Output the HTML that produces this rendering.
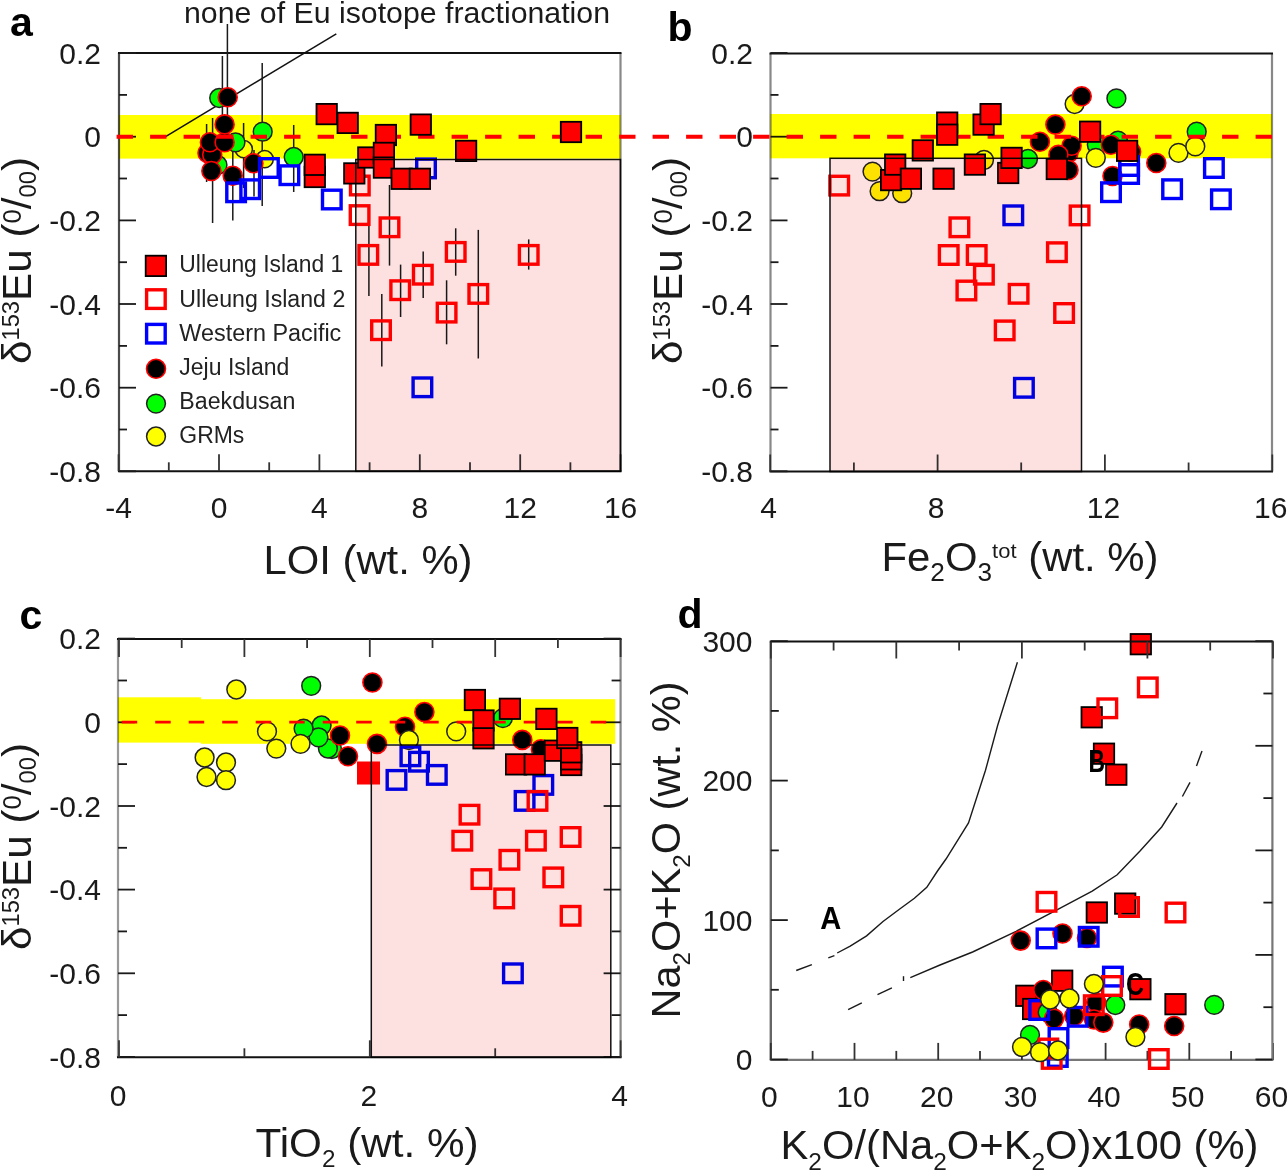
<!DOCTYPE html><html><head><meta charset="utf-8"><style>html,body{margin:0;padding:0;background:#fff;width:1288px;height:1170px;overflow:hidden}svg{display:block}text{font-family:"Liberation Sans",sans-serif}</style></head><body>
<svg width="1288" height="1170" viewBox="0 0 1288 1170">
<rect width="1288" height="1170" fill="#fff"/>
<line x1="119" y1="53.0" x2="119" y2="471.3" stroke="#4a4a4a" stroke-width="2.2"/>
<line x1="620.5" y1="53.0" x2="620.5" y2="471.3" stroke="#888" stroke-width="2.2"/>
<line x1="118" y1="53.0" x2="621.5" y2="53.0" stroke="#111" stroke-width="2"/>
<line x1="118" y1="471.3" x2="621.5" y2="471.3" stroke="#111" stroke-width="2"/>
<line x1="119" y1="53.0" x2="136" y2="53.0" stroke="#1a1a1a" stroke-width="1.8"/>
<line x1="119" y1="94.9" x2="127" y2="94.9" stroke="#1a1a1a" stroke-width="1.8"/>
<line x1="119" y1="136.7" x2="136" y2="136.7" stroke="#1a1a1a" stroke-width="1.8"/>
<line x1="119" y1="178.5" x2="127" y2="178.5" stroke="#1a1a1a" stroke-width="1.8"/>
<line x1="119" y1="220.4" x2="136" y2="220.4" stroke="#1a1a1a" stroke-width="1.8"/>
<line x1="119" y1="262.2" x2="127" y2="262.2" stroke="#1a1a1a" stroke-width="1.8"/>
<line x1="119" y1="304.0" x2="136" y2="304.0" stroke="#1a1a1a" stroke-width="1.8"/>
<line x1="119" y1="345.9" x2="127" y2="345.9" stroke="#1a1a1a" stroke-width="1.8"/>
<line x1="119" y1="387.7" x2="136" y2="387.7" stroke="#1a1a1a" stroke-width="1.8"/>
<line x1="119" y1="429.5" x2="127" y2="429.5" stroke="#1a1a1a" stroke-width="1.8"/>
<line x1="119" y1="471.3" x2="136" y2="471.3" stroke="#1a1a1a" stroke-width="1.8"/>
<line x1="118.6" y1="454.3" x2="118.6" y2="471.3" stroke="#333" stroke-width="1.8"/>
<line x1="168.8" y1="462.3" x2="168.8" y2="471.3" stroke="#333" stroke-width="1.8"/>
<line x1="219.0" y1="454.3" x2="219.0" y2="471.3" stroke="#333" stroke-width="1.8"/>
<line x1="269.2" y1="462.3" x2="269.2" y2="471.3" stroke="#333" stroke-width="1.8"/>
<line x1="319.4" y1="454.3" x2="319.4" y2="471.3" stroke="#333" stroke-width="1.8"/>
<line x1="369.6" y1="462.3" x2="369.6" y2="471.3" stroke="#333" stroke-width="1.8"/>
<line x1="419.8" y1="454.3" x2="419.8" y2="471.3" stroke="#333" stroke-width="1.8"/>
<line x1="470.0" y1="462.3" x2="470.0" y2="471.3" stroke="#333" stroke-width="1.8"/>
<line x1="520.2" y1="454.3" x2="520.2" y2="471.3" stroke="#333" stroke-width="1.8"/>
<line x1="570.4" y1="462.3" x2="570.4" y2="471.3" stroke="#333" stroke-width="1.8"/>
<line x1="620.6" y1="454.3" x2="620.6" y2="471.3" stroke="#333" stroke-width="1.8"/>
<line x1="770.5" y1="53.5" x2="770.5" y2="471.5" stroke="#888" stroke-width="2.2"/>
<line x1="1272" y1="53.5" x2="1272" y2="471.5" stroke="#888" stroke-width="2.2"/>
<line x1="769.5" y1="53.5" x2="1273" y2="53.5" stroke="#111" stroke-width="2"/>
<line x1="769.5" y1="471.5" x2="1273" y2="471.5" stroke="#111" stroke-width="2"/>
<line x1="770.5" y1="53.0" x2="787.5" y2="53.0" stroke="#1a1a1a" stroke-width="1.8"/>
<line x1="770.5" y1="94.9" x2="778.5" y2="94.9" stroke="#1a1a1a" stroke-width="1.8"/>
<line x1="770.5" y1="136.7" x2="787.5" y2="136.7" stroke="#1a1a1a" stroke-width="1.8"/>
<line x1="770.5" y1="178.5" x2="778.5" y2="178.5" stroke="#1a1a1a" stroke-width="1.8"/>
<line x1="770.5" y1="220.4" x2="787.5" y2="220.4" stroke="#1a1a1a" stroke-width="1.8"/>
<line x1="770.5" y1="262.2" x2="778.5" y2="262.2" stroke="#1a1a1a" stroke-width="1.8"/>
<line x1="770.5" y1="304.0" x2="787.5" y2="304.0" stroke="#1a1a1a" stroke-width="1.8"/>
<line x1="770.5" y1="345.9" x2="778.5" y2="345.9" stroke="#1a1a1a" stroke-width="1.8"/>
<line x1="770.5" y1="387.7" x2="787.5" y2="387.7" stroke="#1a1a1a" stroke-width="1.8"/>
<line x1="770.5" y1="429.5" x2="778.5" y2="429.5" stroke="#1a1a1a" stroke-width="1.8"/>
<line x1="770.5" y1="471.3" x2="787.5" y2="471.3" stroke="#1a1a1a" stroke-width="1.8"/>
<line x1="770.2" y1="454.5" x2="770.2" y2="471.5" stroke="#333" stroke-width="1.8"/>
<line x1="853.9" y1="462.5" x2="853.9" y2="471.5" stroke="#333" stroke-width="1.8"/>
<line x1="937.6" y1="454.5" x2="937.6" y2="471.5" stroke="#333" stroke-width="1.8"/>
<line x1="1021.2" y1="462.5" x2="1021.2" y2="471.5" stroke="#333" stroke-width="1.8"/>
<line x1="1104.9" y1="454.5" x2="1104.9" y2="471.5" stroke="#333" stroke-width="1.8"/>
<line x1="1188.6" y1="462.5" x2="1188.6" y2="471.5" stroke="#333" stroke-width="1.8"/>
<line x1="1272.3" y1="454.5" x2="1272.3" y2="471.5" stroke="#333" stroke-width="1.8"/>
<rect x="119" y="115" width="501.5" height="43.6" fill="#ffff00" style="mix-blend-mode:multiply"/>
<rect x="770.5" y="114" width="501.5" height="44.3" fill="#ffff00" style="mix-blend-mode:multiply"/>
<polyline points="165.6,136.6 336.3,33.8" fill="none" stroke="#111" stroke-width="1.5"/>
<line x1="227.4" y1="24" x2="227.4" y2="140" stroke="#1a1a1a" stroke-width="1.5"/>
<line x1="222.4" y1="56" x2="222.4" y2="140" stroke="#1a1a1a" stroke-width="1.5"/>
<line x1="262.2" y1="63" x2="262.2" y2="206" stroke="#1a1a1a" stroke-width="1.5"/>
<line x1="212.6" y1="118" x2="212.6" y2="223" stroke="#1a1a1a" stroke-width="1.5"/>
<line x1="232.8" y1="150" x2="232.8" y2="220.5" stroke="#1a1a1a" stroke-width="1.5"/>
<line x1="206.6" y1="124" x2="206.6" y2="182" stroke="#1a1a1a" stroke-width="1.5"/>
<line x1="243.6" y1="123" x2="243.6" y2="188" stroke="#1a1a1a" stroke-width="1.5"/>
<line x1="293.7" y1="125" x2="293.7" y2="192" stroke="#1a1a1a" stroke-width="1.5"/>
<line x1="254" y1="150" x2="254" y2="196.6" stroke="#1a1a1a" stroke-width="1.5"/>
<line x1="368.9" y1="215" x2="368.9" y2="296" stroke="#1a1a1a" stroke-width="1.5"/>
<line x1="389.5" y1="185" x2="389.5" y2="265.6" stroke="#1a1a1a" stroke-width="1.5"/>
<line x1="455.7" y1="228.3" x2="455.7" y2="275.7" stroke="#1a1a1a" stroke-width="1.5"/>
<line x1="400.6" y1="264.6" x2="400.6" y2="317" stroke="#1a1a1a" stroke-width="1.5"/>
<line x1="423.2" y1="251.5" x2="423.2" y2="297.9" stroke="#1a1a1a" stroke-width="1.5"/>
<line x1="478.3" y1="229.9" x2="478.3" y2="358.5" stroke="#1a1a1a" stroke-width="1.5"/>
<line x1="446.6" y1="280.3" x2="446.6" y2="344.3" stroke="#1a1a1a" stroke-width="1.5"/>
<line x1="381.8" y1="293.9" x2="381.8" y2="366.5" stroke="#1a1a1a" stroke-width="1.5"/>
<line x1="528.7" y1="239.4" x2="528.7" y2="269.6" stroke="#1a1a1a" stroke-width="1.5"/>
<circle cx="243.8" cy="149.2" r="8.6" fill="#ffff00" stroke="#222" stroke-width="1.5"/>
<circle cx="264.7" cy="159.2" r="8.6" fill="#ffff00" stroke="#222" stroke-width="1.5"/>
<circle cx="219.2" cy="98.0" r="9.4" fill="#00ff00" stroke="#222" stroke-width="1.5"/>
<circle cx="235.5" cy="142.3" r="9.4" fill="#00ff00" stroke="#222" stroke-width="1.5"/>
<circle cx="262.7" cy="131.7" r="9.4" fill="#00ff00" stroke="#222" stroke-width="1.5"/>
<circle cx="293.7" cy="157.0" r="9.4" fill="#00ff00" stroke="#222" stroke-width="1.5"/>
<circle cx="217.5" cy="165.0" r="9.4" fill="#00ff00" stroke="#222" stroke-width="1.5"/>
<circle cx="207.5" cy="153.0" r="9.5" fill="#000" stroke="#ff0000" stroke-width="1.6"/>
<circle cx="212.2" cy="154.7" r="9.5" fill="#000" stroke="#ff0000" stroke-width="1.6"/>
<circle cx="211.4" cy="171.0" r="9.5" fill="#000" stroke="#ff0000" stroke-width="1.6"/>
<circle cx="209.9" cy="142.3" r="9.5" fill="#000" stroke="#ff0000" stroke-width="1.6"/>
<circle cx="224.6" cy="142.3" r="9.5" fill="#000" stroke="#ff0000" stroke-width="1.6"/>
<circle cx="224.6" cy="124.4" r="9.5" fill="#000" stroke="#ff0000" stroke-width="1.6"/>
<circle cx="227.7" cy="97.3" r="9.5" fill="#000" stroke="#ff0000" stroke-width="1.6"/>
<circle cx="232.7" cy="175.7" r="9.5" fill="#000" stroke="#ff0000" stroke-width="1.6"/>
<circle cx="253.4" cy="163.3" r="9.5" fill="#000" stroke="#ff0000" stroke-width="1.6"/>
<circle cx="1028.0" cy="159.0" r="9.4" fill="#00ff00" stroke="#222" stroke-width="1.5"/>
<circle cx="1116.4" cy="98.4" r="9.4" fill="#00ff00" stroke="#222" stroke-width="1.5"/>
<circle cx="1096.8" cy="144.8" r="9.4" fill="#00ff00" stroke="#222" stroke-width="1.5"/>
<circle cx="1118.0" cy="140.7" r="9.4" fill="#00ff00" stroke="#222" stroke-width="1.5"/>
<circle cx="1196.7" cy="131.7" r="9.4" fill="#00ff00" stroke="#222" stroke-width="1.5"/>
<circle cx="872.5" cy="171.6" r="9.4" fill="#ffff00" stroke="#222" stroke-width="1.5"/>
<circle cx="879.6" cy="191.2" r="9.4" fill="#ffff00" stroke="#222" stroke-width="1.5"/>
<circle cx="902.2" cy="193.2" r="9.4" fill="#ffff00" stroke="#222" stroke-width="1.5"/>
<circle cx="984.0" cy="160.0" r="9.4" fill="#ffff00" stroke="#222" stroke-width="1.5"/>
<circle cx="1074.6" cy="104.0" r="9.4" fill="#ffff00" stroke="#222" stroke-width="1.5"/>
<circle cx="1095.8" cy="157.9" r="9.4" fill="#ffff00" stroke="#222" stroke-width="1.5"/>
<circle cx="1178.5" cy="152.9" r="9.4" fill="#ffff00" stroke="#222" stroke-width="1.5"/>
<circle cx="1195.3" cy="146.4" r="9.4" fill="#ffff00" stroke="#222" stroke-width="1.5"/>
<circle cx="1081.7" cy="96.3" r="9.5" fill="#000" stroke="#ff0000" stroke-width="1.6"/>
<circle cx="1055.4" cy="124.6" r="9.5" fill="#000" stroke="#ff0000" stroke-width="1.6"/>
<circle cx="1039.9" cy="141.8" r="9.5" fill="#000" stroke="#ff0000" stroke-width="1.6"/>
<circle cx="1068.5" cy="152.9" r="9.5" fill="#000" stroke="#ff0000" stroke-width="1.6"/>
<circle cx="1071.6" cy="145.8" r="9.5" fill="#000" stroke="#ff0000" stroke-width="1.6"/>
<circle cx="1058.4" cy="154.9" r="9.5" fill="#000" stroke="#ff0000" stroke-width="1.6"/>
<circle cx="1110.9" cy="144.8" r="9.5" fill="#000" stroke="#ff0000" stroke-width="1.6"/>
<circle cx="1131.1" cy="151.8" r="9.5" fill="#000" stroke="#ff0000" stroke-width="1.6"/>
<circle cx="1156.3" cy="163.0" r="9.5" fill="#000" stroke="#ff0000" stroke-width="1.6"/>
<circle cx="1068.5" cy="170.0" r="9.5" fill="#000" stroke="#ff0000" stroke-width="1.6"/>
<circle cx="1112.5" cy="176.0" r="9.5" fill="#000" stroke="#ff0000" stroke-width="1.6"/>
<line x1="116.6" y1="136.8" x2="1272" y2="136.8" stroke="#ff0000" stroke-width="4" stroke-dasharray="16.4 17.1"/>
<rect x="226.8" y="183.0" width="18.6" height="18.6" fill="none" stroke="#0000ff" stroke-width="3.4"/>
<rect x="240.9" y="179.9" width="18.6" height="18.6" fill="none" stroke="#0000ff" stroke-width="3.4"/>
<rect x="259.6" y="158.7" width="18.6" height="18.6" fill="none" stroke="#0000ff" stroke-width="3.4"/>
<rect x="280.1" y="165.9" width="18.6" height="18.6" fill="none" stroke="#0000ff" stroke-width="3.4"/>
<rect x="322.5" y="190.2" width="18.6" height="18.6" fill="none" stroke="#0000ff" stroke-width="3.4"/>
<rect x="416.7" y="159.1" width="18.6" height="18.6" fill="none" stroke="#0000ff" stroke-width="3.4"/>
<rect x="413.1" y="378.0" width="18.6" height="18.6" fill="none" stroke="#0000ff" stroke-width="3.4"/>
<rect x="350.5" y="176.2" width="18.6" height="18.6" fill="none" stroke="#ff0000" stroke-width="3.4"/>
<rect x="350.3" y="205.8" width="18.6" height="18.6" fill="none" stroke="#ff0000" stroke-width="3.4"/>
<rect x="380.2" y="218.0" width="18.6" height="18.6" fill="none" stroke="#ff0000" stroke-width="3.4"/>
<rect x="359.0" y="245.6" width="18.6" height="18.6" fill="none" stroke="#ff0000" stroke-width="3.4"/>
<rect x="390.9" y="280.9" width="18.6" height="18.6" fill="none" stroke="#ff0000" stroke-width="3.4"/>
<rect x="413.5" y="265.4" width="18.6" height="18.6" fill="none" stroke="#ff0000" stroke-width="3.4"/>
<rect x="446.4" y="242.6" width="18.6" height="18.6" fill="none" stroke="#ff0000" stroke-width="3.4"/>
<rect x="519.4" y="245.6" width="18.6" height="18.6" fill="none" stroke="#ff0000" stroke-width="3.4"/>
<rect x="469.0" y="284.6" width="18.6" height="18.6" fill="none" stroke="#ff0000" stroke-width="3.4"/>
<rect x="437.3" y="303.3" width="18.6" height="18.6" fill="none" stroke="#ff0000" stroke-width="3.4"/>
<rect x="371.7" y="320.9" width="18.6" height="18.6" fill="none" stroke="#ff0000" stroke-width="3.4"/>
<rect x="316.5" y="103.9" width="20.4" height="20.4" fill="#ff0000" stroke="#000" stroke-width="1.8"/>
<rect x="337.5" y="112.7" width="20.4" height="20.4" fill="#ff0000" stroke="#000" stroke-width="1.8"/>
<rect x="375.7" y="124.8" width="20.4" height="20.4" fill="#ff0000" stroke="#000" stroke-width="1.8"/>
<rect x="410.6" y="114.4" width="20.4" height="20.4" fill="#ff0000" stroke="#000" stroke-width="1.8"/>
<rect x="455.9" y="140.7" width="20.4" height="20.4" fill="#ff0000" stroke="#000" stroke-width="1.8"/>
<rect x="560.8" y="121.8" width="20.4" height="20.4" fill="#ff0000" stroke="#000" stroke-width="1.8"/>
<rect x="304.6" y="166.8" width="20.4" height="20.4" fill="#ff0000" stroke="#000" stroke-width="1.8"/>
<rect x="304.6" y="154.6" width="20.4" height="20.4" fill="#ff0000" stroke="#000" stroke-width="1.8"/>
<rect x="344.1" y="163.2" width="20.4" height="20.4" fill="#ff0000" stroke="#000" stroke-width="1.8"/>
<rect x="358.1" y="147.3" width="20.4" height="20.4" fill="#ff0000" stroke="#000" stroke-width="1.8"/>
<rect x="373.7" y="142.7" width="20.4" height="20.4" fill="#ff0000" stroke="#000" stroke-width="1.8"/>
<rect x="373.7" y="157.4" width="20.4" height="20.4" fill="#ff0000" stroke="#000" stroke-width="1.8"/>
<rect x="391.5" y="168.6" width="20.4" height="20.4" fill="#ff0000" stroke="#000" stroke-width="1.8"/>
<rect x="409.7" y="168.6" width="20.4" height="20.4" fill="#ff0000" stroke="#000" stroke-width="1.8"/>
<rect x="1004.0" y="206.0" width="18.6" height="18.6" fill="none" stroke="#0000ff" stroke-width="3.4"/>
<rect x="1014.6" y="378.5" width="18.6" height="18.6" fill="none" stroke="#0000ff" stroke-width="3.4"/>
<rect x="1101.7" y="182.9" width="18.6" height="18.6" fill="none" stroke="#0000ff" stroke-width="3.4"/>
<rect x="1119.8" y="156.7" width="18.6" height="18.6" fill="none" stroke="#0000ff" stroke-width="3.4"/>
<rect x="1119.8" y="164.7" width="18.6" height="18.6" fill="none" stroke="#0000ff" stroke-width="3.4"/>
<rect x="1162.8" y="179.9" width="18.6" height="18.6" fill="none" stroke="#0000ff" stroke-width="3.4"/>
<rect x="1204.6" y="158.7" width="18.6" height="18.6" fill="none" stroke="#0000ff" stroke-width="3.4"/>
<rect x="1211.6" y="190.0" width="18.6" height="18.6" fill="none" stroke="#0000ff" stroke-width="3.4"/>
<rect x="829.9" y="176.3" width="18.6" height="18.6" fill="none" stroke="#ff0000" stroke-width="3.4"/>
<rect x="950.1" y="218.0" width="18.6" height="18.6" fill="none" stroke="#ff0000" stroke-width="3.4"/>
<rect x="939.4" y="245.7" width="18.6" height="18.6" fill="none" stroke="#ff0000" stroke-width="3.4"/>
<rect x="967.4" y="245.7" width="18.6" height="18.6" fill="none" stroke="#ff0000" stroke-width="3.4"/>
<rect x="974.6" y="265.4" width="18.6" height="18.6" fill="none" stroke="#ff0000" stroke-width="3.4"/>
<rect x="957.1" y="281.2" width="18.6" height="18.6" fill="none" stroke="#ff0000" stroke-width="3.4"/>
<rect x="1009.3" y="284.5" width="18.6" height="18.6" fill="none" stroke="#ff0000" stroke-width="3.4"/>
<rect x="1047.6" y="242.9" width="18.6" height="18.6" fill="none" stroke="#ff0000" stroke-width="3.4"/>
<rect x="1070.3" y="206.1" width="18.6" height="18.6" fill="none" stroke="#ff0000" stroke-width="3.4"/>
<rect x="1054.8" y="303.7" width="18.6" height="18.6" fill="none" stroke="#ff0000" stroke-width="3.4"/>
<rect x="995.4" y="321.1" width="18.6" height="18.6" fill="none" stroke="#ff0000" stroke-width="3.4"/>
<rect x="880.9" y="169.9" width="20.4" height="20.4" fill="#ff0000" stroke="#000" stroke-width="1.8"/>
<rect x="885.0" y="154.4" width="20.4" height="20.4" fill="#ff0000" stroke="#000" stroke-width="1.8"/>
<rect x="900.7" y="168.5" width="20.4" height="20.4" fill="#ff0000" stroke="#000" stroke-width="1.8"/>
<rect x="912.6" y="140.2" width="20.4" height="20.4" fill="#ff0000" stroke="#000" stroke-width="1.8"/>
<rect x="937.0" y="112.4" width="20.4" height="20.4" fill="#ff0000" stroke="#000" stroke-width="1.8"/>
<rect x="937.0" y="124.5" width="20.4" height="20.4" fill="#ff0000" stroke="#000" stroke-width="1.8"/>
<rect x="933.4" y="168.5" width="20.4" height="20.4" fill="#ff0000" stroke="#000" stroke-width="1.8"/>
<rect x="973.4" y="114.4" width="20.4" height="20.4" fill="#ff0000" stroke="#000" stroke-width="1.8"/>
<rect x="980.4" y="103.9" width="20.4" height="20.4" fill="#ff0000" stroke="#000" stroke-width="1.8"/>
<rect x="964.7" y="154.4" width="20.4" height="20.4" fill="#ff0000" stroke="#000" stroke-width="1.8"/>
<rect x="998.0" y="162.8" width="20.4" height="20.4" fill="#ff0000" stroke="#000" stroke-width="1.8"/>
<rect x="1001.4" y="147.7" width="20.4" height="20.4" fill="#ff0000" stroke="#000" stroke-width="1.8"/>
<rect x="1079.9" y="121.5" width="20.4" height="20.4" fill="#ff0000" stroke="#000" stroke-width="1.8"/>
<rect x="1116.9" y="140.6" width="20.4" height="20.4" fill="#ff0000" stroke="#000" stroke-width="1.8"/>
<rect x="1046.6" y="158.8" width="20.4" height="20.4" fill="#ff0000" stroke="#000" stroke-width="1.8"/>
<rect x="355.8" y="159.5" width="264.7" height="311.8" fill="#fde1e1" stroke="#111" stroke-width="1.5" style="mix-blend-mode:multiply"/>
<rect x="830" y="158.3" width="251.5" height="313.2" fill="#fde1e1" stroke="#111" stroke-width="1.5" style="mix-blend-mode:multiply"/>
<line x1="118" y1="639.0" x2="118" y2="1057.3" stroke="#999" stroke-width="2.2"/>
<line x1="620.6" y1="639.0" x2="620.6" y2="1057.3" stroke="#888" stroke-width="2.2"/>
<line x1="117" y1="639.0" x2="621.6" y2="639.0" stroke="#111" stroke-width="2"/>
<line x1="117" y1="1057.3" x2="621.6" y2="1057.3" stroke="#111" stroke-width="2"/>
<line x1="118" y1="638.6" x2="135" y2="638.6" stroke="#1a1a1a" stroke-width="1.8"/>
<line x1="603.6" y1="638.6" x2="620.6" y2="638.6" stroke="#1a1a1a" stroke-width="1.8"/>
<line x1="118" y1="680.5" x2="127" y2="680.5" stroke="#1a1a1a" stroke-width="1.8"/>
<line x1="611.6" y1="680.5" x2="620.6" y2="680.5" stroke="#1a1a1a" stroke-width="1.8"/>
<line x1="118" y1="722.3" x2="135" y2="722.3" stroke="#1a1a1a" stroke-width="1.8"/>
<line x1="603.6" y1="722.3" x2="620.6" y2="722.3" stroke="#1a1a1a" stroke-width="1.8"/>
<line x1="118" y1="764.1" x2="127" y2="764.1" stroke="#1a1a1a" stroke-width="1.8"/>
<line x1="611.6" y1="764.1" x2="620.6" y2="764.1" stroke="#1a1a1a" stroke-width="1.8"/>
<line x1="118" y1="806.0" x2="135" y2="806.0" stroke="#1a1a1a" stroke-width="1.8"/>
<line x1="603.6" y1="806.0" x2="620.6" y2="806.0" stroke="#1a1a1a" stroke-width="1.8"/>
<line x1="118" y1="847.8" x2="127" y2="847.8" stroke="#1a1a1a" stroke-width="1.8"/>
<line x1="611.6" y1="847.8" x2="620.6" y2="847.8" stroke="#1a1a1a" stroke-width="1.8"/>
<line x1="118" y1="889.6" x2="135" y2="889.6" stroke="#1a1a1a" stroke-width="1.8"/>
<line x1="603.6" y1="889.6" x2="620.6" y2="889.6" stroke="#1a1a1a" stroke-width="1.8"/>
<line x1="118" y1="931.4" x2="127" y2="931.4" stroke="#1a1a1a" stroke-width="1.8"/>
<line x1="611.6" y1="931.4" x2="620.6" y2="931.4" stroke="#1a1a1a" stroke-width="1.8"/>
<line x1="118" y1="973.3" x2="135" y2="973.3" stroke="#1a1a1a" stroke-width="1.8"/>
<line x1="603.6" y1="973.3" x2="620.6" y2="973.3" stroke="#1a1a1a" stroke-width="1.8"/>
<line x1="118" y1="1015.1" x2="127" y2="1015.1" stroke="#1a1a1a" stroke-width="1.8"/>
<line x1="611.6" y1="1015.1" x2="620.6" y2="1015.1" stroke="#1a1a1a" stroke-width="1.8"/>
<line x1="118" y1="1056.9" x2="135" y2="1056.9" stroke="#1a1a1a" stroke-width="1.8"/>
<line x1="603.6" y1="1056.9" x2="620.6" y2="1056.9" stroke="#1a1a1a" stroke-width="1.8"/>
<line x1="119.0" y1="639.0" x2="119.0" y2="657.0" stroke="#333" stroke-width="1.8"/>
<line x1="181.7" y1="639.0" x2="181.7" y2="648.0" stroke="#333" stroke-width="1.8"/>
<line x1="244.4" y1="639.0" x2="244.4" y2="657.0" stroke="#333" stroke-width="1.8"/>
<line x1="307.1" y1="639.0" x2="307.1" y2="648.0" stroke="#333" stroke-width="1.8"/>
<line x1="369.8" y1="639.0" x2="369.8" y2="657.0" stroke="#333" stroke-width="1.8"/>
<line x1="432.5" y1="639.0" x2="432.5" y2="648.0" stroke="#333" stroke-width="1.8"/>
<line x1="495.2" y1="639.0" x2="495.2" y2="657.0" stroke="#333" stroke-width="1.8"/>
<line x1="557.9" y1="639.0" x2="557.9" y2="648.0" stroke="#333" stroke-width="1.8"/>
<line x1="620.6" y1="639.0" x2="620.6" y2="657.0" stroke="#333" stroke-width="1.8"/>
<line x1="119.0" y1="1040.3" x2="119.0" y2="1057.3" stroke="#333" stroke-width="1.8"/>
<line x1="244.4" y1="1048.3" x2="244.4" y2="1057.3" stroke="#333" stroke-width="1.8"/>
<line x1="369.8" y1="1040.3" x2="369.8" y2="1057.3" stroke="#333" stroke-width="1.8"/>
<line x1="495.2" y1="1048.3" x2="495.2" y2="1057.3" stroke="#333" stroke-width="1.8"/>
<line x1="620.6" y1="1040.3" x2="620.6" y2="1057.3" stroke="#333" stroke-width="1.8"/>
<rect x="118" y="697.3" width="83" height="45.3" fill="#ffff00" style="mix-blend-mode:multiply"/>
<rect x="201" y="699.2" width="414.20000000000005" height="44.6" fill="#ffff00" style="mix-blend-mode:multiply"/>
<circle cx="236.3" cy="689.5" r="9.4" fill="#ffff00" stroke="#222" stroke-width="1.5"/>
<circle cx="204.6" cy="757.5" r="9.4" fill="#ffff00" stroke="#222" stroke-width="1.5"/>
<circle cx="226.0" cy="762.5" r="9.4" fill="#ffff00" stroke="#222" stroke-width="1.5"/>
<circle cx="206.5" cy="777.0" r="9.4" fill="#ffff00" stroke="#222" stroke-width="1.5"/>
<circle cx="226.0" cy="780.2" r="9.4" fill="#ffff00" stroke="#222" stroke-width="1.5"/>
<circle cx="267.0" cy="731.4" r="9.4" fill="#ffff00" stroke="#222" stroke-width="1.5"/>
<circle cx="276.3" cy="748.6" r="9.4" fill="#ffff00" stroke="#222" stroke-width="1.5"/>
<circle cx="311.2" cy="685.8" r="9.4" fill="#00ff00" stroke="#222" stroke-width="1.5"/>
<circle cx="332.0" cy="749.0" r="9.4" fill="#00ff00" stroke="#222" stroke-width="1.5"/>
<circle cx="327.9" cy="748.5" r="9.4" fill="#00ff00" stroke="#222" stroke-width="1.5"/>
<circle cx="321.6" cy="725.5" r="9.4" fill="#00ff00" stroke="#222" stroke-width="1.5"/>
<circle cx="318.5" cy="737.3" r="9.4" fill="#00ff00" stroke="#222" stroke-width="1.5"/>
<circle cx="303.6" cy="728.6" r="9.4" fill="#00ff00" stroke="#222" stroke-width="1.5"/>
<circle cx="502.9" cy="718.1" r="9.4" fill="#00ff00" stroke="#222" stroke-width="1.5"/>
<circle cx="372.4" cy="682.5" r="9.5" fill="#000" stroke="#ff0000" stroke-width="1.6"/>
<circle cx="424.4" cy="712.0" r="9.5" fill="#000" stroke="#ff0000" stroke-width="1.6"/>
<circle cx="405.0" cy="726.8" r="9.5" fill="#000" stroke="#ff0000" stroke-width="1.6"/>
<circle cx="340.0" cy="735.5" r="9.5" fill="#000" stroke="#ff0000" stroke-width="1.6"/>
<circle cx="348.0" cy="756.3" r="9.5" fill="#000" stroke="#ff0000" stroke-width="1.6"/>
<circle cx="377.0" cy="743.9" r="9.5" fill="#000" stroke="#ff0000" stroke-width="1.6"/>
<circle cx="522.3" cy="739.9" r="9.5" fill="#000" stroke="#ff0000" stroke-width="1.6"/>
<circle cx="540.9" cy="749.2" r="9.5" fill="#000" stroke="#ff0000" stroke-width="1.6"/>
<circle cx="300.5" cy="743.9" r="9.4" fill="#ffff00" stroke="#222" stroke-width="1.5"/>
<circle cx="408.9" cy="740.0" r="9.4" fill="#ffff00" stroke="#222" stroke-width="1.5"/>
<circle cx="456.2" cy="731.4" r="9.4" fill="#ffff00" stroke="#222" stroke-width="1.5"/>
<line x1="118" y1="722.1" x2="607" y2="722.1" stroke="#ff0000" stroke-width="2.8" stroke-dasharray="15.5 18" stroke-dashoffset="-3.7"/>
<rect x="357.0" y="761.5" width="23.0" height="23.0" fill="#ff0000"/>
<rect x="401.1" y="747.0" width="18.6" height="18.6" fill="none" stroke="#0000ff" stroke-width="3.4"/>
<rect x="409.7" y="752.4" width="18.6" height="18.6" fill="none" stroke="#0000ff" stroke-width="3.4"/>
<rect x="387.2" y="770.6" width="18.6" height="18.6" fill="none" stroke="#0000ff" stroke-width="3.4"/>
<rect x="427.5" y="765.6" width="18.6" height="18.6" fill="none" stroke="#0000ff" stroke-width="3.4"/>
<rect x="534.0" y="775.6" width="18.6" height="18.6" fill="none" stroke="#0000ff" stroke-width="3.4"/>
<rect x="515.3" y="791.6" width="18.6" height="18.6" fill="none" stroke="#0000ff" stroke-width="3.4"/>
<rect x="503.6" y="964.0" width="18.6" height="18.6" fill="none" stroke="#0000ff" stroke-width="3.4"/>
<rect x="528.2" y="791.6" width="18.6" height="18.6" fill="none" stroke="#ff0000" stroke-width="3.4"/>
<rect x="460.2" y="805.4" width="18.6" height="18.6" fill="none" stroke="#ff0000" stroke-width="3.4"/>
<rect x="453.0" y="831.4" width="18.6" height="18.6" fill="none" stroke="#ff0000" stroke-width="3.4"/>
<rect x="500.1" y="850.5" width="18.6" height="18.6" fill="none" stroke="#ff0000" stroke-width="3.4"/>
<rect x="472.1" y="869.8" width="18.6" height="18.6" fill="none" stroke="#ff0000" stroke-width="3.4"/>
<rect x="494.9" y="889.1" width="18.6" height="18.6" fill="none" stroke="#ff0000" stroke-width="3.4"/>
<rect x="526.6" y="831.4" width="18.6" height="18.6" fill="none" stroke="#ff0000" stroke-width="3.4"/>
<rect x="561.3" y="827.7" width="18.6" height="18.6" fill="none" stroke="#ff0000" stroke-width="3.4"/>
<rect x="544.0" y="868.1" width="18.6" height="18.6" fill="none" stroke="#ff0000" stroke-width="3.4"/>
<rect x="561.3" y="906.5" width="18.6" height="18.6" fill="none" stroke="#ff0000" stroke-width="3.4"/>
<rect x="464.7" y="689.8" width="20.4" height="20.4" fill="#ff0000" stroke="#000" stroke-width="1.8"/>
<rect x="473.3" y="710.3" width="20.4" height="20.4" fill="#ff0000" stroke="#000" stroke-width="1.8"/>
<rect x="473.3" y="728.1" width="20.4" height="20.4" fill="#ff0000" stroke="#000" stroke-width="1.8"/>
<rect x="499.7" y="698.6" width="20.4" height="20.4" fill="#ff0000" stroke="#000" stroke-width="1.8"/>
<rect x="536.2" y="708.7" width="20.4" height="20.4" fill="#ff0000" stroke="#000" stroke-width="1.8"/>
<rect x="505.9" y="754.2" width="20.4" height="20.4" fill="#ff0000" stroke="#000" stroke-width="1.8"/>
<rect x="524.5" y="754.2" width="20.4" height="20.4" fill="#ff0000" stroke="#000" stroke-width="1.8"/>
<rect x="544.7" y="740.5" width="20.4" height="20.4" fill="#ff0000" stroke="#000" stroke-width="1.8"/>
<rect x="561.0" y="754.8" width="20.4" height="20.4" fill="#ff0000" stroke="#000" stroke-width="1.8"/>
<rect x="561.0" y="749.1" width="20.4" height="20.4" fill="#ff0000" stroke="#000" stroke-width="1.8"/>
<rect x="561.0" y="742.1" width="20.4" height="20.4" fill="#ff0000" stroke="#000" stroke-width="1.8"/>
<rect x="557.1" y="727.8" width="20.4" height="20.4" fill="#ff0000" stroke="#000" stroke-width="1.8"/>
<rect x="371.3" y="745" width="239.5" height="312.3" fill="#fde1e1" stroke="#111" stroke-width="1.5" style="mix-blend-mode:multiply"/>
<line x1="770.8" y1="641.5" x2="770.8" y2="1059.9" stroke="#666" stroke-width="2.4"/>
<line x1="769.8" y1="1059.9" x2="1273.4" y2="1059.9" stroke="#777" stroke-width="2.2"/>
<line x1="770.8" y1="1059.5" x2="787.8" y2="1059.5" stroke="#1a1a1a" stroke-width="1.8"/>
<line x1="770.8" y1="989.8" x2="778.8" y2="989.8" stroke="#1a1a1a" stroke-width="1.8"/>
<line x1="770.8" y1="920.1" x2="787.8" y2="920.1" stroke="#1a1a1a" stroke-width="1.8"/>
<line x1="770.8" y1="850.4" x2="778.8" y2="850.4" stroke="#1a1a1a" stroke-width="1.8"/>
<line x1="770.8" y1="780.6" x2="787.8" y2="780.6" stroke="#1a1a1a" stroke-width="1.8"/>
<line x1="770.8" y1="710.9" x2="778.8" y2="710.9" stroke="#1a1a1a" stroke-width="1.8"/>
<line x1="770.8" y1="641.2" x2="787.8" y2="641.2" stroke="#1a1a1a" stroke-width="1.8"/>
<line x1="770.8" y1="1042.9" x2="770.8" y2="1059.9" stroke="#333" stroke-width="1.8"/>
<line x1="812.6" y1="1050.9" x2="812.6" y2="1059.9" stroke="#333" stroke-width="1.8"/>
<line x1="854.5" y1="1042.9" x2="854.5" y2="1059.9" stroke="#333" stroke-width="1.8"/>
<line x1="896.3" y1="1050.9" x2="896.3" y2="1059.9" stroke="#333" stroke-width="1.8"/>
<line x1="938.2" y1="1042.9" x2="938.2" y2="1059.9" stroke="#333" stroke-width="1.8"/>
<line x1="980.0" y1="1050.9" x2="980.0" y2="1059.9" stroke="#333" stroke-width="1.8"/>
<line x1="1021.9" y1="1042.9" x2="1021.9" y2="1059.9" stroke="#333" stroke-width="1.8"/>
<line x1="1063.8" y1="1050.9" x2="1063.8" y2="1059.9" stroke="#333" stroke-width="1.8"/>
<line x1="1105.6" y1="1042.9" x2="1105.6" y2="1059.9" stroke="#333" stroke-width="1.8"/>
<line x1="1147.4" y1="1050.9" x2="1147.4" y2="1059.9" stroke="#333" stroke-width="1.8"/>
<line x1="1189.3" y1="1042.9" x2="1189.3" y2="1059.9" stroke="#333" stroke-width="1.8"/>
<line x1="1231.1" y1="1050.9" x2="1231.1" y2="1059.9" stroke="#333" stroke-width="1.8"/>
<line x1="1273.0" y1="1042.9" x2="1273.0" y2="1059.9" stroke="#333" stroke-width="1.8"/>
<polyline points="837.2,953 850.2,946.2 866.6,935.9 883,921.5 899.4,909.2 914.4,898.3 926.8,887.4 937.5,871 946,859 968.5,822.9 985.5,770.3 997.7,725.2 1017.4,662.2" stroke="#1a1a1a" stroke-width="1.4" fill="none"/>
<line x1="796.2" y1="970.5" x2="811.9" y2="964.6" stroke="#1a1a1a" stroke-width="1.4" fill="none"/>
<line x1="828.3" y1="957.8" x2="834.4" y2="955.7" stroke="#1a1a1a" stroke-width="1.4" fill="none"/>
<polyline points="910.3,977.6 940,965 972.6,952 1016.1,931.3 1057.4,909.6 1092.2,891.1 1117.2,874.8 1140,850.9 1161.7,827 1177,803" stroke="#1a1a1a" stroke-width="1.4" fill="none"/>
<line x1="848.1" y1="1009.7" x2="861.8" y2="1002.9" stroke="#1a1a1a" stroke-width="1.4" fill="none"/>
<line x1="877.5" y1="994.7" x2="891.9" y2="987.9" stroke="#1a1a1a" stroke-width="1.4" fill="none"/>
<line x1="903.5" y1="976.2" x2="903.5" y2="981" stroke="#1a1a1a" stroke-width="1.4" fill="none"/>
<line x1="1182.4" y1="796.5" x2="1190" y2="782.4" stroke="#1a1a1a" stroke-width="1.4" fill="none"/>
<line x1="1196.5" y1="766" x2="1202" y2="750.9" stroke="#1a1a1a" stroke-width="1.4" fill="none"/>
<rect x="1130.6" y="634.0" width="20.4" height="20.4" fill="#ff0000" stroke="#000" stroke-width="1.8"/>
<rect x="1081.5" y="707.1" width="20.4" height="20.4" fill="#ff0000" stroke="#000" stroke-width="1.8"/>
<rect x="1093.8" y="743.5" width="20.4" height="20.4" fill="#ff0000" stroke="#000" stroke-width="1.8"/>
<rect x="1086.6" y="902.3" width="20.4" height="20.4" fill="#ff0000" stroke="#000" stroke-width="1.8"/>
<rect x="1115.0" y="893.4" width="20.4" height="20.4" fill="#ff0000" stroke="#000" stroke-width="1.8"/>
<rect x="1130.2" y="979.0" width="20.4" height="20.4" fill="#ff0000" stroke="#000" stroke-width="1.8"/>
<rect x="1165.3" y="994.0" width="20.4" height="20.4" fill="#ff0000" stroke="#000" stroke-width="1.8"/>
<rect x="1052.0" y="970.5" width="20.4" height="20.4" fill="#ff0000" stroke="#000" stroke-width="1.8"/>
<rect x="1016.1" y="985.6" width="20.4" height="20.4" fill="#ff0000" stroke="#000" stroke-width="1.8"/>
<rect x="1022.9" y="998.8" width="20.4" height="20.4" fill="#ff0000" stroke="#000" stroke-width="1.8"/>
<text x="1088.5" y="771.5" font-size="31" text-anchor="start" font-weight="bold" fill="#000" textLength="16.5" lengthAdjust="spacingAndGlyphs">B</text>
<rect x="1106.1" y="764.5" width="20.4" height="20.4" fill="#ff0000" stroke="#000" stroke-width="1.8"/>
<circle cx="1115.3" cy="1005.0" r="9.4" fill="#00ff00" stroke="#222" stroke-width="1.5"/>
<circle cx="1214.2" cy="1004.9" r="9.4" fill="#00ff00" stroke="#222" stroke-width="1.5"/>
<circle cx="1030.0" cy="1035.0" r="9.4" fill="#00ff00" stroke="#222" stroke-width="1.5"/>
<circle cx="1047.7" cy="1012.3" r="9.4" fill="#00ff00" stroke="#222" stroke-width="1.5"/>
<circle cx="1020.7" cy="940.6" r="9.5" fill="#000" stroke="#ff0000" stroke-width="1.6"/>
<circle cx="1062.5" cy="933.5" r="9.5" fill="#000" stroke="#ff0000" stroke-width="1.6"/>
<circle cx="1087.0" cy="938.0" r="9.5" fill="#000" stroke="#ff0000" stroke-width="1.6"/>
<circle cx="1043.3" cy="990.0" r="9.5" fill="#000" stroke="#ff0000" stroke-width="1.6"/>
<circle cx="1096.2" cy="1002.5" r="9.5" fill="#000" stroke="#ff0000" stroke-width="1.6"/>
<circle cx="1054.0" cy="1018.6" r="9.5" fill="#000" stroke="#ff0000" stroke-width="1.6"/>
<circle cx="1074.2" cy="1016.0" r="9.5" fill="#000" stroke="#ff0000" stroke-width="1.6"/>
<circle cx="1094.0" cy="1019.5" r="9.5" fill="#000" stroke="#ff0000" stroke-width="1.6"/>
<circle cx="1103.3" cy="1022.6" r="9.5" fill="#000" stroke="#ff0000" stroke-width="1.6"/>
<circle cx="1139.2" cy="1024.5" r="9.5" fill="#000" stroke="#ff0000" stroke-width="1.6"/>
<circle cx="1174.2" cy="1026.0" r="9.5" fill="#000" stroke="#ff0000" stroke-width="1.6"/>
<rect x="1037.2" y="929.1" width="18.6" height="18.6" fill="none" stroke="#0000ff" stroke-width="3.4"/>
<rect x="1079.4" y="927.5" width="18.6" height="18.6" fill="none" stroke="#0000ff" stroke-width="3.4"/>
<rect x="1103.6" y="967.3" width="18.6" height="18.6" fill="none" stroke="#0000ff" stroke-width="3.4"/>
<rect x="1029.9" y="1000.7" width="18.6" height="18.6" fill="none" stroke="#0000ff" stroke-width="3.4"/>
<rect x="1068.4" y="1007.5" width="18.6" height="18.6" fill="none" stroke="#0000ff" stroke-width="3.4"/>
<rect x="1049.2" y="1028.7" width="18.6" height="18.6" fill="none" stroke="#0000ff" stroke-width="3.4"/>
<rect x="1048.5" y="1047.7" width="18.6" height="18.6" fill="none" stroke="#0000ff" stroke-width="3.4"/>
<rect x="1138.5" y="678.1" width="18.6" height="18.6" fill="none" stroke="#ff0000" stroke-width="3.4"/>
<rect x="1098.0" y="699.0" width="18.6" height="18.6" fill="none" stroke="#ff0000" stroke-width="3.4"/>
<rect x="1037.2" y="892.5" width="18.6" height="18.6" fill="none" stroke="#ff0000" stroke-width="3.4"/>
<rect x="1119.7" y="897.7" width="18.6" height="18.6" fill="none" stroke="#ff0000" stroke-width="3.4"/>
<rect x="1166.2" y="903.2" width="18.6" height="18.6" fill="none" stroke="#ff0000" stroke-width="3.4"/>
<rect x="1102.7" y="976.7" width="18.6" height="18.6" fill="none" stroke="#ff0000" stroke-width="3.4"/>
<rect x="1084.5" y="995.9" width="18.6" height="18.6" fill="none" stroke="#ff0000" stroke-width="3.4"/>
<rect x="1039.0" y="1039.2" width="18.6" height="18.6" fill="none" stroke="#ff0000" stroke-width="3.4"/>
<rect x="1042.4" y="1049.6" width="18.6" height="18.6" fill="none" stroke="#ff0000" stroke-width="3.4"/>
<rect x="1149.5" y="1049.7" width="18.6" height="18.6" fill="none" stroke="#ff0000" stroke-width="3.4"/>
<circle cx="1093.9" cy="984.0" r="9.4" fill="#ffff00" stroke="#222" stroke-width="1.5"/>
<circle cx="1050.1" cy="999.5" r="9.4" fill="#ffff00" stroke="#222" stroke-width="1.5"/>
<circle cx="1069.5" cy="998.5" r="9.4" fill="#ffff00" stroke="#222" stroke-width="1.5"/>
<circle cx="1135.4" cy="1037.0" r="9.4" fill="#ffff00" stroke="#222" stroke-width="1.5"/>
<circle cx="1022.0" cy="1047.0" r="9.4" fill="#ffff00" stroke="#222" stroke-width="1.5"/>
<circle cx="1040.0" cy="1052.2" r="9.4" fill="#ffff00" stroke="#222" stroke-width="1.5"/>
<circle cx="1058.0" cy="1050.5" r="9.4" fill="#ffff00" stroke="#222" stroke-width="1.5"/>
<text x="1126" y="994.7" font-size="31" text-anchor="start" font-weight="bold" fill="#000" textLength="18" lengthAdjust="spacingAndGlyphs">C</text>
<line x1="1272.4" y1="641.5" x2="1272.4" y2="1059.9" stroke="#777" stroke-width="2.2"/>
<line x1="769.8" y1="641.5" x2="1273.4" y2="641.5" stroke="#111" stroke-width="2"/>
<line x1="1255.4" y1="1059.5" x2="1272.4" y2="1059.5" stroke="#1a1a1a" stroke-width="1.8"/>
<line x1="1263.4" y1="1007.2" x2="1272.4" y2="1007.2" stroke="#1a1a1a" stroke-width="1.8"/>
<line x1="1255.4" y1="954.9" x2="1272.4" y2="954.9" stroke="#1a1a1a" stroke-width="1.8"/>
<line x1="1263.4" y1="902.6" x2="1272.4" y2="902.6" stroke="#1a1a1a" stroke-width="1.8"/>
<line x1="1255.4" y1="850.4" x2="1272.4" y2="850.4" stroke="#1a1a1a" stroke-width="1.8"/>
<line x1="1263.4" y1="798.1" x2="1272.4" y2="798.1" stroke="#1a1a1a" stroke-width="1.8"/>
<line x1="1255.4" y1="745.8" x2="1272.4" y2="745.8" stroke="#1a1a1a" stroke-width="1.8"/>
<line x1="1263.4" y1="693.5" x2="1272.4" y2="693.5" stroke="#1a1a1a" stroke-width="1.8"/>
<line x1="1255.4" y1="641.2" x2="1272.4" y2="641.2" stroke="#1a1a1a" stroke-width="1.8"/>
<line x1="770.8" y1="641.5" x2="770.8" y2="658.5" stroke="#333" stroke-width="1.8"/>
<line x1="833.6" y1="641.5" x2="833.6" y2="650.5" stroke="#333" stroke-width="1.8"/>
<line x1="896.3" y1="641.5" x2="896.3" y2="658.5" stroke="#333" stroke-width="1.8"/>
<line x1="959.1" y1="641.5" x2="959.1" y2="650.5" stroke="#333" stroke-width="1.8"/>
<line x1="1021.9" y1="641.5" x2="1021.9" y2="658.5" stroke="#333" stroke-width="1.8"/>
<line x1="1084.7" y1="641.5" x2="1084.7" y2="650.5" stroke="#333" stroke-width="1.8"/>
<line x1="1147.4" y1="641.5" x2="1147.4" y2="658.5" stroke="#333" stroke-width="1.8"/>
<line x1="1210.2" y1="641.5" x2="1210.2" y2="650.5" stroke="#333" stroke-width="1.8"/>
<line x1="1273.0" y1="641.5" x2="1273.0" y2="658.5" stroke="#333" stroke-width="1.8"/>
<text x="101" y="63.6" font-size="30" text-anchor="end" font-weight="normal" fill="#1a1a1a">0.2</text>
<text x="753" y="63.6" font-size="30" text-anchor="end" font-weight="normal" fill="#1a1a1a">0.2</text>
<text x="101" y="649.2" font-size="30" text-anchor="end" font-weight="normal" fill="#1a1a1a">0.2</text>
<text x="101" y="147.3" font-size="30" text-anchor="end" font-weight="normal" fill="#1a1a1a">0</text>
<text x="753" y="147.3" font-size="30" text-anchor="end" font-weight="normal" fill="#1a1a1a">0</text>
<text x="101" y="732.9" font-size="30" text-anchor="end" font-weight="normal" fill="#1a1a1a">0</text>
<text x="101" y="231.0" font-size="30" text-anchor="end" font-weight="normal" fill="#1a1a1a">-0.2</text>
<text x="753" y="231.0" font-size="30" text-anchor="end" font-weight="normal" fill="#1a1a1a">-0.2</text>
<text x="101" y="816.6" font-size="30" text-anchor="end" font-weight="normal" fill="#1a1a1a">-0.2</text>
<text x="101" y="314.6" font-size="30" text-anchor="end" font-weight="normal" fill="#1a1a1a">-0.4</text>
<text x="753" y="314.6" font-size="30" text-anchor="end" font-weight="normal" fill="#1a1a1a">-0.4</text>
<text x="101" y="900.2" font-size="30" text-anchor="end" font-weight="normal" fill="#1a1a1a">-0.4</text>
<text x="101" y="398.3" font-size="30" text-anchor="end" font-weight="normal" fill="#1a1a1a">-0.6</text>
<text x="753" y="398.3" font-size="30" text-anchor="end" font-weight="normal" fill="#1a1a1a">-0.6</text>
<text x="101" y="983.9" font-size="30" text-anchor="end" font-weight="normal" fill="#1a1a1a">-0.6</text>
<text x="101" y="481.9" font-size="30" text-anchor="end" font-weight="normal" fill="#1a1a1a">-0.8</text>
<text x="753" y="481.9" font-size="30" text-anchor="end" font-weight="normal" fill="#1a1a1a">-0.8</text>
<text x="101" y="1067.5" font-size="30" text-anchor="end" font-weight="normal" fill="#1a1a1a">-0.8</text>
<text x="118.6" y="518" font-size="30" text-anchor="middle" font-weight="normal" fill="#1a1a1a">-4</text>
<text x="219.0" y="518" font-size="30" text-anchor="middle" font-weight="normal" fill="#1a1a1a">0</text>
<text x="319.4" y="518" font-size="30" text-anchor="middle" font-weight="normal" fill="#1a1a1a">4</text>
<text x="419.8" y="518" font-size="30" text-anchor="middle" font-weight="normal" fill="#1a1a1a">8</text>
<text x="520.2" y="518" font-size="30" text-anchor="middle" font-weight="normal" fill="#1a1a1a">12</text>
<text x="620.6" y="518" font-size="30" text-anchor="middle" font-weight="normal" fill="#1a1a1a">16</text>
<text x="768.7" y="518" font-size="30" text-anchor="middle" font-weight="normal" fill="#1a1a1a">4</text>
<text x="936.1" y="518" font-size="30" text-anchor="middle" font-weight="normal" fill="#1a1a1a">8</text>
<text x="1103.4" y="518" font-size="30" text-anchor="middle" font-weight="normal" fill="#1a1a1a">12</text>
<text x="1270.8" y="518" font-size="30" text-anchor="middle" font-weight="normal" fill="#1a1a1a">16</text>
<text x="118.0" y="1106" font-size="30" text-anchor="middle" font-weight="normal" fill="#1a1a1a">0</text>
<text x="368.8" y="1106" font-size="30" text-anchor="middle" font-weight="normal" fill="#1a1a1a">2</text>
<text x="619.6" y="1106" font-size="30" text-anchor="middle" font-weight="normal" fill="#1a1a1a">4</text>
<text x="769.3" y="1106.5" font-size="30" text-anchor="middle" font-weight="normal" fill="#1a1a1a">0</text>
<text x="853.0" y="1106.5" font-size="30" text-anchor="middle" font-weight="normal" fill="#1a1a1a">10</text>
<text x="936.7" y="1106.5" font-size="30" text-anchor="middle" font-weight="normal" fill="#1a1a1a">20</text>
<text x="1020.4" y="1106.5" font-size="30" text-anchor="middle" font-weight="normal" fill="#1a1a1a">30</text>
<text x="1104.1" y="1106.5" font-size="30" text-anchor="middle" font-weight="normal" fill="#1a1a1a">40</text>
<text x="1187.8" y="1106.5" font-size="30" text-anchor="middle" font-weight="normal" fill="#1a1a1a">50</text>
<text x="1271.5" y="1106.5" font-size="30" text-anchor="middle" font-weight="normal" fill="#1a1a1a">60</text>
<text x="752.5" y="1070.1" font-size="30" text-anchor="end" font-weight="normal" fill="#1a1a1a">0</text>
<text x="752.5" y="930.7" font-size="30" text-anchor="end" font-weight="normal" fill="#1a1a1a">100</text>
<text x="752.5" y="791.2" font-size="30" text-anchor="end" font-weight="normal" fill="#1a1a1a">200</text>
<text x="752.5" y="651.8" font-size="30" text-anchor="end" font-weight="normal" fill="#1a1a1a">300</text>
<text x="263.5" y="574.3" font-size="41" text-anchor="start" font-weight="normal" fill="#1a1a1a" textLength="209" lengthAdjust="spacingAndGlyphs">LOI (wt. %)</text>
<text x="881.5" y="570.8" font-size="40" fill="#1a1a1a" textLength="277" lengthAdjust="spacingAndGlyphs">Fe<tspan font-size="25" dy="10">2</tspan><tspan dy="-10">O</tspan><tspan font-size="25" dy="10">3</tspan><tspan font-size="21" dy="-22.8">tot</tspan><tspan dy="12.8"> (wt. %)</tspan></text>
<text x="255.5" y="1156.9" font-size="40" fill="#1a1a1a" textLength="223" lengthAdjust="spacingAndGlyphs">TiO<tspan font-size="23" dy="10.3">2</tspan><tspan dy="-10.3"> (wt. %)</tspan></text>
<text x="780.5" y="1159" font-size="41" fill="#1a1a1a" textLength="478" lengthAdjust="spacingAndGlyphs">K<tspan font-size="24" dy="10.5">2</tspan><tspan dy="-10.5">O/(Na</tspan><tspan font-size="24" dy="10.5">2</tspan><tspan dy="-10.5">O+K</tspan><tspan font-size="24" dy="10.5">2</tspan><tspan dy="-10.5">O)x100 (%)</tspan></text>
<text transform="translate(31.3,364) rotate(-90)" font-size="41" fill="#1a1a1a" textLength="207" lengthAdjust="spacingAndGlyphs">δ<tspan font-size="23" dy="-12.3">153</tspan><tspan dy="12.3">Eu (</tspan><tspan font-size="25" dy="-10">0</tspan><tspan dy="10">/</tspan><tspan font-size="23" dy="4.4">00</tspan><tspan dy="-4.4">)</tspan></text>
<text transform="translate(682.3,364) rotate(-90)" font-size="41" fill="#1a1a1a" textLength="207" lengthAdjust="spacingAndGlyphs">δ<tspan font-size="23" dy="-12.3">153</tspan><tspan dy="12.3">Eu (</tspan><tspan font-size="25" dy="-10">0</tspan><tspan dy="10">/</tspan><tspan font-size="23" dy="4.4">00</tspan><tspan dy="-4.4">)</tspan></text>
<text transform="translate(31.3,950) rotate(-90)" font-size="41" fill="#1a1a1a" textLength="207" lengthAdjust="spacingAndGlyphs">δ<tspan font-size="23" dy="-12.3">153</tspan><tspan dy="12.3">Eu (</tspan><tspan font-size="25" dy="-10">0</tspan><tspan dy="10">/</tspan><tspan font-size="23" dy="4.4">00</tspan><tspan dy="-4.4">)</tspan></text>
<text transform="translate(679.8,1018.5) rotate(-90)" font-size="41" fill="#1a1a1a" textLength="337" lengthAdjust="spacingAndGlyphs">Na<tspan font-size="24" dy="10">2</tspan><tspan dy="-10">O+K</tspan><tspan font-size="24" dy="10">2</tspan><tspan dy="-10">O (wt. %)</tspan></text>
<text x="10" y="36" font-size="41" text-anchor="start" font-weight="bold" fill="#000">a</text>
<text x="667.5" y="41" font-size="41" text-anchor="start" font-weight="bold" fill="#000">b</text>
<text x="19.5" y="629" font-size="41" text-anchor="start" font-weight="bold" fill="#000">c</text>
<text x="677.5" y="627.5" font-size="41" text-anchor="start" font-weight="bold" fill="#000">d</text>
<text x="820.3" y="929" font-size="31.5" text-anchor="start" font-weight="bold" fill="#000" textLength="21" lengthAdjust="spacingAndGlyphs">A</text>
<text x="184" y="23" font-size="29.5" text-anchor="start" font-weight="normal" fill="#1a1a1a" textLength="426" lengthAdjust="spacingAndGlyphs">none of Eu isotope fractionation</text>
<rect x="145.7" y="255.7" width="20.4" height="20.4" fill="#ff0000" stroke="#000" stroke-width="1.8"/>
<rect x="146.6" y="289.8" width="18.6" height="18.6" fill="none" stroke="#ff0000" stroke-width="3.4"/>
<rect x="146.6" y="324.4" width="18.6" height="18.6" fill="none" stroke="#0000ff" stroke-width="3.4"/>
<circle cx="156.0" cy="368.8" r="9.5" fill="#000" stroke="#ff0000" stroke-width="1.6"/>
<circle cx="156.0" cy="403.6" r="9.4" fill="#00ff00" stroke="#222" stroke-width="1.5"/>
<circle cx="156.0" cy="436.5" r="9.4" fill="#ffff00" stroke="#222" stroke-width="1.5"/>
<text x="179.3" y="272.1" font-size="23" text-anchor="start" font-weight="normal" fill="#222" textLength="164" lengthAdjust="spacingAndGlyphs">Ulleung Island 1</text>
<text x="179.3" y="306.6" font-size="23" text-anchor="start" font-weight="normal" fill="#222" textLength="166" lengthAdjust="spacingAndGlyphs">Ulleung Island 2</text>
<text x="179.3" y="340.6" font-size="23" text-anchor="start" font-weight="normal" fill="#222" textLength="162" lengthAdjust="spacingAndGlyphs">Western Pacific</text>
<text x="179.3" y="374.5" font-size="23" text-anchor="start" font-weight="normal" fill="#222" textLength="110" lengthAdjust="spacingAndGlyphs">Jeju Island</text>
<text x="179.3" y="409.3" font-size="23" text-anchor="start" font-weight="normal" fill="#222" textLength="116" lengthAdjust="spacingAndGlyphs">Baekdusan</text>
<text x="179.3" y="443" font-size="23" text-anchor="start" font-weight="normal" fill="#222" textLength="65" lengthAdjust="spacingAndGlyphs">GRMs</text>
</svg></body></html>
